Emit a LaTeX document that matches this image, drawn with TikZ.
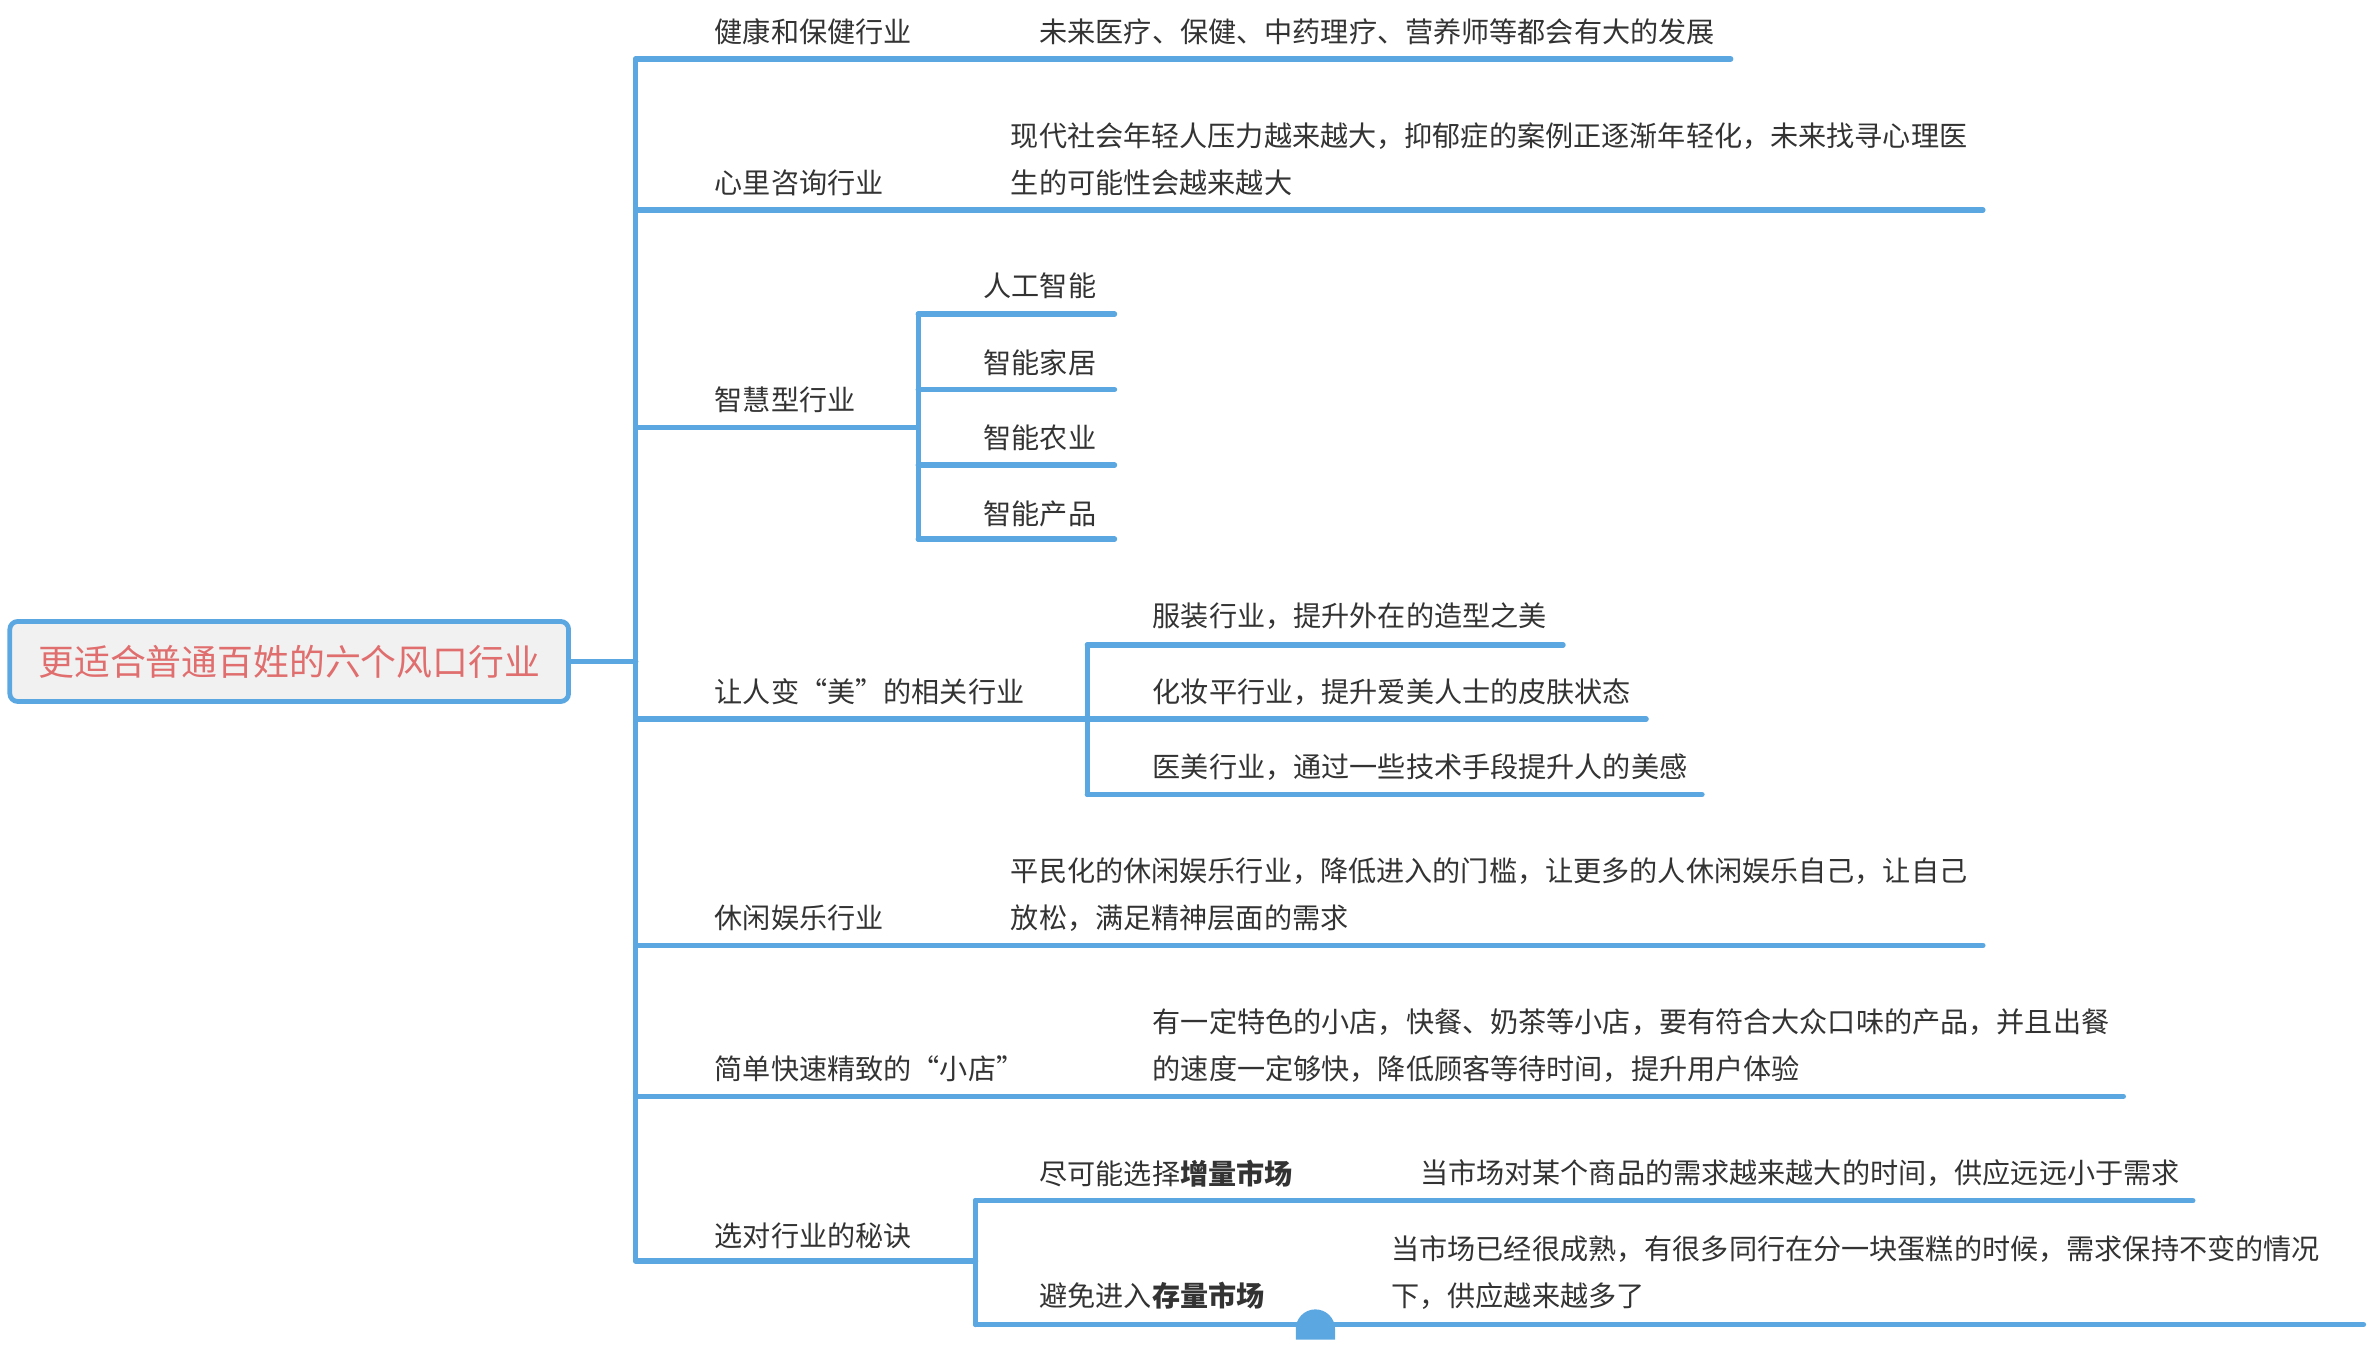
\documentclass[tikz,border=0pt]{standalone}
\usepackage{fontspec}
\setmainfont{Noto Sans CJK SC}
\definecolor{mapblue}{HTML}{5BA7E2}
\definecolor{maptext}{HTML}{333333}
\definecolor{rootred}{HTML}{E06E6E}
\definecolor{rootfill}{HTML}{F1F1F1}
\begin{document}
\begin{tikzpicture}[x=0.2mm,y=-0.2mm]
        \tikzstyle{every node}+=[inner sep=0pt, anchor=west, text=maptext, align=left, font=\fontsize{10.6}{17.6}\selectfont]
        \tikzstyle{branch}=[mapblue, line width=2pt, line cap=round]
        \tikzstyle{rootbox}=[anchor=center, draw=mapblue, line width=1.8pt, fill=rootfill, rounded corners=3pt, minimum width=7.4cm, minimum height=1.06cm, text=rootred, font=\fontsize{13.5}{16}\selectfont]
        \useasboundingbox (0,0) rectangle (1568,906);
        % root
        \node [rootbox] (root) at (191.5,438) {更适合普通百姓的六个风口行业};
        % trunk points and line ends
        \coordinate (k1) at (421,39);
        \coordinate (k2) at (421,139);
        \coordinate (k3) at (421,283);
        \coordinate (k4) at (421,476);
        \coordinate (k5) at (421,626);
        \coordinate (k6) at (421,726);
        \coordinate (k7) at (421,835);
        \coordinate (e1) at (1146,39);
        \coordinate (e2) at (1313,139);
        \coordinate (s3) at (608,283);
        \coordinate (s4) at (720,476);
        \coordinate (e5) at (1313,626);
        \coordinate (e6) at (1406,726);
        \coordinate (s7) at (646,835);
        \draw [branch] (root.east) -- (root.east -| k1);
        \draw [branch] (k1) -- (k7);
        \draw [branch] (k1) -- (e1);
        \draw [branch] (k2) -- (e2);
        \draw [branch] (k3) -- (s3);
        \draw [branch] (k4) -- (s4);
        \draw [branch] (k5) -- (e5);
        \draw [branch] (k6) -- (e6);
        \draw [branch] (k7) -- (s7);
        % topics
        \node (t1) at (473,21) {健康和保健行业};
        \node (d1) at (688,21) {未来医疗、保健、中药理疗、营养师等都会有大的发展};
        \node (t2) at (473,121) {心里咨询行业};
        \node (d2) at (669,105.5) {现代社会年轻人压力越来越大，抑郁症的案例正逐渐年轻化，未来找寻心理医\\生的可能性会越来越大};
        \node (t3) at (473,265) {智慧型行业};
        \node (t4) at (473,458) {让人变“美”的相关行业};
        \node (t5) at (473,608) {休闲娱乐行业};
        \node (d5) at (669,592.5) {平民化的休闲娱乐行业，降低进入的门槛，让更多的人休闲娱乐自己，让自己\\放松，满足精神层面的需求};
        \node (t6) at (473,708) {简单快速精致的“小店”};
        \node (d6) at (763,692.5) {有一定特色的小店，快餐、奶茶等小店，要有符合大众口味的产品，并且出餐\\的速度一定够快，降低顾客等待时间，提升用户体验};
        \node (t7) at (473,818) {选对行业的秘诀};
        % smart industry
        \coordinate (a1) at (608,208);
        \coordinate (a2) at (608,258);
        \coordinate (a3) at (608,308);
        \coordinate (a4) at (608,357);
        \draw [branch] (a1) -- (a4);
        \draw [branch] (a1) -- (738,208);
        \draw [branch] (a2) -- (738,258);
        \draw [branch] (a3) -- (738,308);
        \draw [branch] (a4) -- (738,357);
        \node (a1t) at (651,189) {人工智能};
        \node (a2t) at (651,240) {智能家居};
        \node (a3t) at (651,290) {智能农业};
        \node (a4t) at (651,340) {智能产品};
        % beauty
        \coordinate (b1) at (720,427);
        \coordinate (b2) at (720,476);
        \coordinate (b3) at (720,526);
        \draw [branch] (b1) -- (b3);
        \draw [branch] (b1) -- (1035,427);
        \draw [branch] (b2) -- (1090,476);
        \draw [branch] (b3) -- (1127,526);
        \node (b1t) at (763,408) {服装行业，提升外在的造型之美};
        \node (b2t) at (763,458) {化妆平行业，提升爱美人士的皮肤状态};
        \node (b3t) at (763,508) {医美行业，通过一些技术手段提升人的美感};
        % secret
        \coordinate (c1) at (646,795);
        \coordinate (c2) at (646,877);
        \draw [branch] (c1) -- (c2);
        \draw [branch] (c1) -- (1452,795);
        \draw [branch] (c2) -- (1565,877);
        \node (c1t) at (688,777) {尽可能选择\textbf{增量市场}};
        \node (c1d) at (940,777) {当市场对某个商品的需求越来越大的时间，供应远远小于需求};
        \node (c2t) at (688,858) {避免进入\textbf{存量市场}};
        \node (c2d) at (921,842.5) {当市场已经很成熟，有很多同行在分一块蛋糕的时候，需求保持不变的情况\\下，供应越来越多了};
        \fill [mapblue] (858,887) -- (858,880) arc (180:360:13) -- (884,887) -- cycle;
    \end{tikzpicture}
\end{document}
